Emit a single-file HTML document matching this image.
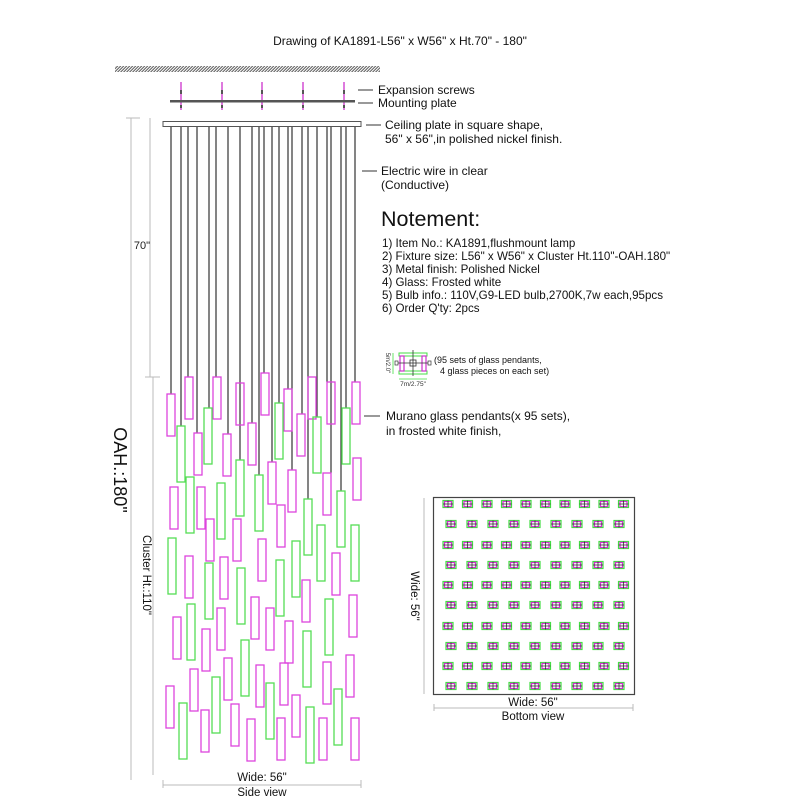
<!DOCTYPE html>
<html><head><meta charset="utf-8"><style>
html,body{margin:0;padding:0;background:#fff;}
svg{display:block;font-family:"Liberation Sans",Arial,sans-serif;}
</style></head><body>
<svg width="800" height="800" viewBox="0 0 800 800" xmlns="http://www.w3.org/2000/svg">
<defs>
<pattern id="hatch" width="3" height="6" patternUnits="userSpaceOnUse" patternTransform="skewX(-45)">
<rect width="1.4" height="6" fill="#555"/></pattern>
<g id="set">
<rect x="-5" y="-3.5" width="10" height="7" fill="none" stroke="#44dd44" stroke-width="1.2"/>
<rect x="-3.5" y="-2.5" width="7" height="5" fill="none" stroke="#cc33cc" stroke-width="1.2"/>
<line x1="-5" y1="0" x2="5" y2="0" stroke="#333" stroke-width="0.8"/>
<line x1="0" y1="-3.5" x2="0" y2="3.5" stroke="#333" stroke-width="0.8"/>
</g>
</defs>
<rect width="800" height="800" fill="#fff"/>
<text x="400" y="45" font-size="12" text-anchor="middle" fill="#111">Drawing of KA1891-L56" x W56" x Ht.70" - 180"</text>
<rect x="115" y="66" width="265" height="6" fill="url(#hatch)"/>
<g stroke="#cc33cc" stroke-width="1.3">
<line x1="181" y1="82" x2="181" y2="110"/><line x1="222" y1="82" x2="222" y2="110"/><line x1="262" y1="82" x2="262" y2="110"/><line x1="303" y1="82" x2="303" y2="110"/><line x1="344" y1="82" x2="344" y2="110"/>
</g>
<g fill="#555"><rect x="180" y="90" width="2" height="4"/><rect x="221" y="90" width="2" height="4"/><rect x="261" y="90" width="2" height="4"/><rect x="302" y="90" width="2" height="4"/><rect x="343" y="90" width="2" height="4"/>
<rect x="180" y="105" width="2" height="3"/><rect x="221" y="105" width="2" height="3"/><rect x="261" y="105" width="2" height="3"/><rect x="302" y="105" width="2" height="3"/><rect x="343" y="105" width="2" height="3"/></g>
<rect x="170" y="100" width="185" height="2.5" fill="#555"/>
<rect x="163" y="121.5" width="198" height="5" fill="#fff" stroke="#555" stroke-width="1"/>
<g stroke="#333" stroke-width="1.2">
<line x1="171" y1="127" x2="171" y2="394"/><line x1="181" y1="127" x2="181" y2="426"/><line x1="188" y1="127" x2="188" y2="377"/><line x1="197" y1="127" x2="197" y2="433"/><line x1="209" y1="127" x2="209" y2="408"/><line x1="216" y1="127" x2="216" y2="377"/><line x1="228" y1="127" x2="228" y2="434"/><line x1="240" y1="127" x2="240" y2="460"/><line x1="252" y1="127" x2="252" y2="423"/><line x1="259" y1="127" x2="259" y2="475"/><line x1="264" y1="127" x2="264" y2="373"/><line x1="272" y1="127" x2="272" y2="462"/><line x1="279" y1="127" x2="279" y2="403"/><line x1="288" y1="127" x2="288" y2="389"/><line x1="292" y1="127" x2="292" y2="470"/><line x1="302" y1="127" x2="302" y2="414"/><line x1="308" y1="127" x2="308" y2="499"/><line x1="317" y1="127" x2="317" y2="417"/><line x1="327" y1="127" x2="327" y2="382"/><line x1="331" y1="127" x2="331" y2="473"/><line x1="341" y1="127" x2="341" y2="491"/><line x1="346" y1="127" x2="346" y2="408"/><line x1="355" y1="127" x2="355" y2="382"/>
</g>
<g fill="none" stroke="#dd44dd" stroke-width="1.3">
<rect x="167" y="394" width="8" height="42"/><rect x="185" y="377" width="8" height="42"/><rect x="194" y="433" width="8" height="42"/><rect x="213" y="377" width="8" height="42"/><rect x="223" y="434" width="8" height="42"/><rect x="236" y="383" width="8" height="42"/><rect x="248" y="423" width="8" height="42"/><rect x="261" y="373" width="8" height="42"/><rect x="284" y="389" width="8" height="42"/><rect x="297" y="414" width="8" height="42"/><rect x="308" y="377" width="8" height="42"/><rect x="327" y="382" width="8" height="42"/><rect x="352" y="382" width="8" height="42"/><rect x="353" y="458" width="8" height="42"/><rect x="323" y="473" width="8" height="42"/><rect x="288" y="470" width="8" height="42"/><rect x="268" y="462" width="8" height="42"/><rect x="277" y="505" width="8" height="42"/><rect x="170" y="487" width="8" height="42"/><rect x="197" y="487" width="8" height="42"/><rect x="206" y="519" width="8" height="42"/><rect x="233" y="519" width="8" height="42"/><rect x="258" y="539" width="8" height="42"/><rect x="185" y="556" width="8" height="42"/><rect x="220" y="557" width="8" height="42"/><rect x="332" y="553" width="8" height="42"/>
<rect x="302" y="580" width="8" height="42"/><rect x="173" y="617" width="8" height="42"/><rect x="202" y="629" width="8" height="42"/><rect x="217" y="608" width="8" height="42"/><rect x="251" y="597" width="8" height="42"/><rect x="266" y="608" width="8" height="42"/><rect x="285" y="621" width="8" height="42"/><rect x="349" y="595" width="8" height="42"/><rect x="190" y="669" width="8" height="42"/><rect x="224" y="658" width="8" height="42"/><rect x="256" y="665" width="8" height="42"/><rect x="280" y="663" width="8" height="42"/><rect x="323" y="662" width="8" height="42"/><rect x="346" y="655" width="8" height="42"/><rect x="166" y="686" width="8" height="42"/><rect x="201" y="710" width="8" height="42"/><rect x="231" y="704" width="8" height="42"/><rect x="247" y="719" width="8" height="42"/><rect x="277" y="718" width="8" height="42"/><rect x="292" y="695" width="8" height="42"/><rect x="319" y="718" width="8" height="42"/><rect x="351" y="718" width="8" height="42"/>
</g>
<g fill="none" stroke="#55dd55" stroke-width="1.3">
<rect x="177" y="426" width="8" height="56"/><rect x="204" y="408" width="8" height="56"/><rect x="186" y="477" width="8" height="56"/><rect x="217" y="483" width="8" height="56"/><rect x="236" y="460" width="8" height="56"/><rect x="255" y="475" width="8" height="56"/><rect x="275" y="403" width="8" height="56"/><rect x="313" y="417" width="8" height="56"/><rect x="342" y="408" width="8" height="56"/><rect x="304" y="499" width="8" height="56"/><rect x="337" y="491" width="8" height="56"/><rect x="168" y="538" width="8" height="56"/><rect x="317" y="525" width="8" height="56"/><rect x="351" y="525" width="8" height="56"/><rect x="292" y="541" width="8" height="56"/><rect x="205" y="563" width="8" height="56"/><rect x="237" y="568" width="8" height="56"/><rect x="276" y="560" width="8" height="56"/>
<rect x="187" y="604" width="8" height="56"/><rect x="325" y="599" width="8" height="56"/><rect x="241" y="640" width="8" height="56"/><rect x="303" y="631" width="8" height="56"/><rect x="212" y="677" width="8" height="56"/><rect x="266" y="683" width="8" height="56"/><rect x="334" y="689" width="8" height="56"/><rect x="179" y="703" width="8" height="56"/><rect x="306" y="707" width="8" height="56"/>
</g>
<g stroke="#bbb" stroke-width="1">
<line x1="131" y1="118" x2="131" y2="780"/><line x1="126" y1="118" x2="140" y2="118"/>
<line x1="150" y1="118" x2="150" y2="377"/><line x1="145" y1="377" x2="160" y2="377"/>
<line x1="153" y1="377" x2="153" y2="775"/>
<line x1="163" y1="785" x2="361" y2="785"/><line x1="163" y1="780" x2="163" y2="788"/><line x1="361" y1="780" x2="361" y2="788"/>
<line x1="434" y1="708" x2="633" y2="708"/><line x1="434" y1="704" x2="434" y2="711"/><line x1="633" y1="704" x2="633" y2="711"/>
</g>
<text x="142" y="249" font-size="11" text-anchor="middle" fill="#222">70"</text>
<text transform="translate(114,470) rotate(90)" font-size="18" text-anchor="middle" fill="#111">OAH.:180"</text>
<text transform="translate(143,575) rotate(90)" font-size="11.5" text-anchor="middle" fill="#111">Cluster Ht.:110"</text>
<text x="262" y="781" font-size="11.5" text-anchor="middle" fill="#111">Wide: 56"</text>
<text x="262" y="796" font-size="11.5" text-anchor="middle" fill="#111">Side view</text>
<g stroke="#333" stroke-width="1"><line x1="358" y1="90" x2="373" y2="90"/><line x1="358" y1="103" x2="373" y2="103"/><line x1="366" y1="125" x2="381" y2="125"/><line x1="362" y1="171" x2="377" y2="171"/><line x1="364" y1="416" x2="380" y2="416"/></g>
<g font-size="12" fill="#111">
<text x="378" y="94">Expansion screws</text>
<text x="378" y="107">Mounting plate</text>
<text x="385" y="129">Ceiling plate in square shape,</text>
<text x="385" y="143">56" x 56",in polished nickel finish.</text>
<text x="381" y="175">Electric wire in clear</text>
<text x="381" y="189">(Conductive)</text>
<text x="386" y="420">Murano glass pendants(x 95 sets),</text>
<text x="386" y="435">in frosted white finish,</text>
</g>
<text x="381" y="226" font-size="21.5" fill="#111">Notement:</text>
<g font-size="11.6" fill="#111">
<text x="382" y="247">1) Item No.: KA1891,flushmount lamp</text>
<text x="382" y="260">2) Fixture size: L56" x W56" x Cluster Ht.110"-OAH.180"</text>
<text x="382" y="273">3) Metal finish: Polished Nickel</text>
<text x="382" y="286">4) Glass: Frosted white</text>
<text x="382" y="299">5) Bulb info.: 110V,G9-LED bulb,2700K,7w each,95pcs</text>
<text x="382" y="312">6) Order Q'ty: 2pcs</text>
</g>
<g>
<rect x="399" y="353" width="28" height="3" fill="none" stroke="#44dd44" stroke-width="1"/>
<rect x="399" y="371" width="28" height="3" fill="none" stroke="#44dd44" stroke-width="1"/>
<rect x="400" y="356" width="4" height="15" fill="none" stroke="#cc33cc" stroke-width="1.2"/>
<rect x="422" y="356" width="4" height="15" fill="none" stroke="#cc33cc" stroke-width="1.2"/>
<line x1="398" y1="363" x2="428" y2="363" stroke="#333" stroke-width="0.8"/>
<line x1="413" y1="350" x2="413" y2="376" stroke="#333" stroke-width="0.8"/>
<rect x="410" y="360" width="6" height="6" fill="none" stroke="#333" stroke-width="0.8"/>
<rect x="395" y="361" width="3" height="4" fill="none" stroke="#333" stroke-width="0.7"/>
<rect x="428" y="361" width="3" height="4" fill="none" stroke="#333" stroke-width="0.7"/>
<line x1="393" y1="353" x2="393" y2="374" stroke="#44dd44" stroke-width="0.8"/>
<line x1="399" y1="379" x2="427" y2="379" stroke="#44dd44" stroke-width="0.8"/>
<text transform="translate(386,363) rotate(90)" font-size="6" text-anchor="middle" fill="#333">5m/2.0"</text>
<text x="413" y="386" font-size="6.5" text-anchor="middle" fill="#333">7m/2.75"</text>
<text x="434" y="363" font-size="9" fill="#111">(95 sets of glass pendants,</text>
<text x="440" y="374" font-size="9" fill="#111">4 glass pieces on each set)</text>
</g>
<rect x="433.5" y="497.5" width="201" height="197" fill="none" stroke="#444" stroke-width="1.2"/>
<g>
<use href="#set" x="448" y="504"/><use href="#set" x="467.5" y="504"/><use href="#set" x="487" y="504"/><use href="#set" x="506.5" y="504"/><use href="#set" x="526" y="504"/><use href="#set" x="545.5" y="504"/><use href="#set" x="565" y="504"/><use href="#set" x="584.5" y="504"/><use href="#set" x="604" y="504"/><use href="#set" x="623.5" y="504"/>
<use href="#set" x="451" y="524"/><use href="#set" x="472" y="524"/><use href="#set" x="493" y="524"/><use href="#set" x="514" y="524"/><use href="#set" x="535" y="524"/><use href="#set" x="556" y="524"/><use href="#set" x="577" y="524"/><use href="#set" x="598" y="524"/><use href="#set" x="619" y="524"/>
<use href="#set" x="448" y="545"/><use href="#set" x="467.5" y="545"/><use href="#set" x="487" y="545"/><use href="#set" x="506.5" y="545"/><use href="#set" x="526" y="545"/><use href="#set" x="545.5" y="545"/><use href="#set" x="565" y="545"/><use href="#set" x="584.5" y="545"/><use href="#set" x="604" y="545"/><use href="#set" x="623.5" y="545"/>
<use href="#set" x="451" y="565"/><use href="#set" x="472" y="565"/><use href="#set" x="493" y="565"/><use href="#set" x="514" y="565"/><use href="#set" x="535" y="565"/><use href="#set" x="556" y="565"/><use href="#set" x="577" y="565"/><use href="#set" x="598" y="565"/><use href="#set" x="619" y="565"/>
<use href="#set" x="448" y="585"/><use href="#set" x="467.5" y="585"/><use href="#set" x="487" y="585"/><use href="#set" x="506.5" y="585"/><use href="#set" x="526" y="585"/><use href="#set" x="545.5" y="585"/><use href="#set" x="565" y="585"/><use href="#set" x="584.5" y="585"/><use href="#set" x="604" y="585"/><use href="#set" x="623.5" y="585"/>
<use href="#set" x="451" y="605"/><use href="#set" x="472" y="605"/><use href="#set" x="493" y="605"/><use href="#set" x="514" y="605"/><use href="#set" x="535" y="605"/><use href="#set" x="556" y="605"/><use href="#set" x="577" y="605"/><use href="#set" x="598" y="605"/><use href="#set" x="619" y="605"/>
<use href="#set" x="448" y="626"/><use href="#set" x="467.5" y="626"/><use href="#set" x="487" y="626"/><use href="#set" x="506.5" y="626"/><use href="#set" x="526" y="626"/><use href="#set" x="545.5" y="626"/><use href="#set" x="565" y="626"/><use href="#set" x="584.5" y="626"/><use href="#set" x="604" y="626"/><use href="#set" x="623.5" y="626"/>
<use href="#set" x="451" y="646"/><use href="#set" x="472" y="646"/><use href="#set" x="493" y="646"/><use href="#set" x="514" y="646"/><use href="#set" x="535" y="646"/><use href="#set" x="556" y="646"/><use href="#set" x="577" y="646"/><use href="#set" x="598" y="646"/><use href="#set" x="619" y="646"/>
<use href="#set" x="448" y="666"/><use href="#set" x="467.5" y="666"/><use href="#set" x="487" y="666"/><use href="#set" x="506.5" y="666"/><use href="#set" x="526" y="666"/><use href="#set" x="545.5" y="666"/><use href="#set" x="565" y="666"/><use href="#set" x="584.5" y="666"/><use href="#set" x="604" y="666"/><use href="#set" x="623.5" y="666"/>
<use href="#set" x="451" y="686"/><use href="#set" x="472" y="686"/><use href="#set" x="493" y="686"/><use href="#set" x="514" y="686"/><use href="#set" x="535" y="686"/><use href="#set" x="556" y="686"/><use href="#set" x="577" y="686"/><use href="#set" x="598" y="686"/><use href="#set" x="619" y="686"/>
</g>
<line x1="424" y1="498" x2="424" y2="694" stroke="#bbb" stroke-width="1"/>
<text transform="translate(411,596) rotate(90)" font-size="11.5" text-anchor="middle" fill="#111">Wide: 56"</text>
<text x="533" y="706" font-size="11.5" text-anchor="middle" fill="#111">Wide: 56"</text>
<text x="533" y="720" font-size="11.5" text-anchor="middle" fill="#111">Bottom view</text>
</svg>
</body></html>
